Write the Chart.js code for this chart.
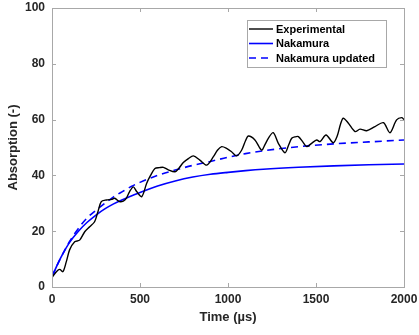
<!DOCTYPE html>
<html>
<head>
<meta charset="utf-8">
<script src="https://cdn.jsdelivr.net/npm/chart.js@4/dist/chart.umd.min.js"></script>
<style>
  html, body { margin: 0; padding: 0; background: #ffffff; }
  canvas { display: block; }
</style>
</head>
<body>
<canvas id="c" width="419" height="335"></canvas>
<script>
// ---- Data ----
const expTime = [0, 25, 44, 62, 81, 100, 129, 157, 186, 214, 242, 261, 280, 309, 339, 356, 384, 405, 422, 441,
  462, 481, 510, 538, 560, 585, 610, 633, 661, 699, 720, 746, 775, 803, 840, 879, 917, 940, 964, 992,
  1020, 1049, 1078, 1100, 1116, 1153, 1191, 1210, 1229, 1257, 1286, 1324, 1345, 1362, 1380, 1400, 1425, 1447, 1475, 1504,
  1523, 1557, 1598, 1620, 1640, 1655, 1683, 1722, 1750, 1788, 1835, 1883, 1920, 1958, 1987, 2000];
const expAbs = [3.4, 5.5, 6.3, 5.5, 9, 13.3, 16.2, 16.8, 19.8, 21.6, 23.4, 27, 30.6, 31.2, 31.4, 31.8, 30.6, 30.8, 31.8, 34.2,
  35.9, 34.2, 32.4, 37.2, 40, 42.5, 42.8, 42.9, 42, 41.3, 42.5, 44.6, 46, 47, 45.5, 43.7, 46.7, 49, 50.3, 49.7,
  48.5, 47, 49.1, 52.5, 54.1, 52.7, 49.1, 51, 53.3, 55.3, 51.5, 48.1, 51, 53.3, 53.8, 53.9, 52, 50.3, 51.5, 52.7,
  52.1, 54.5, 51.7, 54, 58.5, 60.5, 58.8, 55.7, 56.6, 56, 57.5, 58.9, 55.3, 59.9, 60.7, 60];

const modelTime = [0, 50, 100, 150, 200, 250, 300, 350, 400, 450, 500, 600, 700, 800, 900, 1000, 1100, 1200, 1400, 1600, 1800, 2000];
const nakamura = [3.8, 10.5, 16, 20, 23.2, 25.8, 28, 29.8, 31.3, 32.6, 33.9, 36.2, 38, 39.4, 40.4, 41.1, 41.7, 42.2, 42.9, 43.4, 43.8, 44.1];
const nakamuraUpd = [3.8, 10.5, 16.3, 21, 24.8, 27.5, 30, 32.3, 34.2, 36, 37.5, 40, 41.9, 43.6, 45, 46.5, 47.8, 48.8, 50.3, 51.3, 52, 52.7];

const xTicks = [0, 500, 1000, 1500, 2000];
const yTicks = [0, 20, 40, 60, 80, 100];

const seriesLabels = ['Experimental', 'Nakamura', 'Nakamura updated'];

function pts(xs, ys) { return xs.map((x, i) => ({ x: x, y: ys[i] })); }

const FONT = '"Liberation Sans", Arial, Helvetica, sans-serif';
const AXIS_COLOR = '#a8a8a8';
const TEXT_COLOR = '#262626';

const boxPlugin = {
  id: 'boxTicksLegend',
  afterDraw(chart) {
    const ctx = chart.ctx;
    const a = chart.chartArea;
    const xs = chart.scales.x, ys = chart.scales.y;
    ctx.save();
    ctx.strokeStyle = AXIS_COLOR;
    ctx.lineWidth = 1;
    ctx.strokeRect(Math.round(a.left) + 0.5, Math.round(a.top) + 0.5,
                   Math.round(a.right - a.left), Math.round(a.bottom - a.top));
    const tl = 4;
    ctx.beginPath();
    xTicks.forEach(v => {
      const p = Math.round(xs.getPixelForValue(v)) + 0.5;
      ctx.moveTo(p, a.bottom); ctx.lineTo(p, a.bottom - tl);
      ctx.moveTo(p, a.top); ctx.lineTo(p, a.top + tl);
    });
    yTicks.forEach(v => {
      const p = Math.round(ys.getPixelForValue(v)) + 0.5;
      ctx.moveTo(a.left, p); ctx.lineTo(a.left + tl, p);
      ctx.moveTo(a.right, p); ctx.lineTo(a.right - tl, p);
    });
    ctx.stroke();

    // legend box
    const lx = 247, ly = 20, lw = 139, lh = 47;
    ctx.fillStyle = '#ffffff';
    ctx.fillRect(lx, ly, lw, lh);
    ctx.strokeStyle = AXIS_COLOR;
    ctx.strokeRect(lx + 0.5, ly + 0.5, lw, lh);
    const rows = [29, 43.5, 58];
    chart.data.datasets.forEach((ds, i) => {
      const y = rows[i];
      ctx.beginPath();
      ctx.strokeStyle = ds.borderColor;
      ctx.lineWidth = ds.borderWidth;
      ctx.setLineDash(ds.borderDash || []);
      ctx.moveTo(249, y); ctx.lineTo(273, y);
      ctx.stroke();
      ctx.setLineDash([]);
      ctx.fillStyle = '#000000';
      ctx.font = 'bold 11px ' + FONT;
      ctx.textBaseline = 'middle';
      ctx.textAlign = 'left';
      ctx.fillText(ds.label, 276, y + 0.5);
    });
    ctx.restore();
  }
};

new Chart(document.getElementById('c'), {
  type: 'line',
  data: {
    datasets: [
      { label: seriesLabels[0], data: pts(expTime, expAbs), borderColor: '#000000', borderWidth: 1.4,
        pointRadius: 0, tension: 0.3, fill: false },
      { label: seriesLabels[1], data: pts(modelTime, nakamura), borderColor: '#0000ff', borderWidth: 1.6,
        pointRadius: 0, cubicInterpolationMode: 'monotone', fill: false },
      { label: seriesLabels[2], data: pts(modelTime, nakamuraUpd), borderColor: '#0000ff', borderWidth: 1.6,
        borderDash: [7, 5], pointRadius: 0, cubicInterpolationMode: 'monotone', fill: false }
    ]
  },
  options: {
    responsive: false,
    animation: false,
    events: [],
    layout: { padding: { left: 0, right: 15, top: 8, bottom: 0 } },
    plugins: { legend: { display: false }, tooltip: { enabled: false } },
    scales: {
      x: {
        type: 'linear', min: 0, max: 2000,
        afterBuildTicks(s) { s.ticks = xTicks.map(v => ({ value: v })); },
        afterFit(s) { s.height = 48; s.paddingLeft = 0; s.paddingRight = 0; },
        grid: { display: false, drawTicks: false },
        border: { display: false },
        ticks: { padding: 5, color: TEXT_COLOR, font: { family: FONT, size: 12, weight: 'bold' }, maxRotation: 0,
                 callback: (v) => String(v) },
        title: { display: true, text: 'Time (µs)', color: TEXT_COLOR, padding: { top: 0, bottom: 10 },
                 font: { family: FONT, size: 13, weight: 'bold' } }
      },
      y: {
        type: 'linear', min: 0, max: 100,
        afterBuildTicks(s) { s.ticks = yTicks.map(v => ({ value: v })); },
        afterFit(s) { s.width = 52; s.paddingTop = 0; s.paddingBottom = 0; },
        grid: { display: false, drawTicks: false },
        border: { display: false },
        ticks: { padding: 7, color: TEXT_COLOR, font: { family: FONT, size: 12, weight: 'bold' },
                 callback: (v) => String(v) },
        title: { display: true, text: 'Absorption (-)', color: TEXT_COLOR, padding: { top: 6, bottom: 0 },
                 font: { family: FONT, size: 13, weight: 'bold' } }
      }
    }
  },
  plugins: [boxPlugin]
});
</script>
</body>
</html>
